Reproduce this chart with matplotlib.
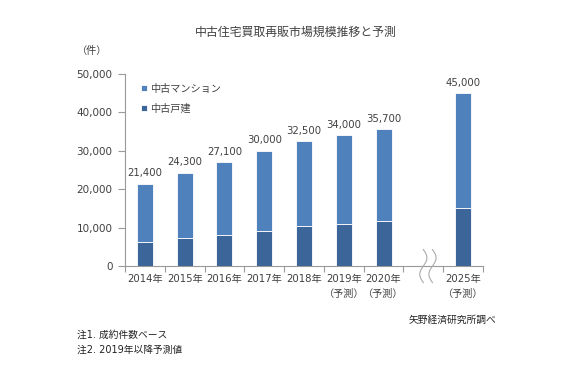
import numpy as np
import matplotlib
matplotlib.use('Agg')
import matplotlib.pyplot as plt

# DejaVu for digits (wide, Verdana-like), Noto CJK for the Japanese glyphs
plt.rcParams['font.family'] = ['DejaVu Sans', 'Noto Sans CJK JP']

# data
years = ['2014年', '2015年', '2016年', '2017年', '2018年', '2019年\n（予測）', '2020年\n（予測）', '2025年\n（予測）']
slots = [0, 1, 2, 3, 4, 5, 6, 8]
totals = [21400, 24300, 27100, 30000, 32500, 34000, 35700, 45000]
detached = [6300, 7300, 8000, 9100, 10300, 11000, 11600, 15000]
condo = [t - d for t, d in zip(totals, detached)]

text_col = '#404040'
col_condo = '#4f81bd'
col_house = '#3c6699'

fig = plt.figure(figsize=(5.75, 3.69), dpi=100)
ax = fig.add_axes([0.2174, 0.279, 0.6226, 0.5205])

ax.bar(slots, detached, width=0.4, color=col_house, edgecolor='white', linewidth=0.6, label='中古戸建', zorder=3)
ax.bar(slots, condo, width=0.4, bottom=detached, color=col_condo, edgecolor='white', linewidth=0.6, label='中古マンション', zorder=3)

for x, t in zip(slots, totals):
    ax.text(x, t + 1400, f'{t:,}', ha='center', va='bottom', fontsize=7.3, color=text_col)

ax.set_xlim(-0.5, 8.5)
ax.set_ylim(0, 50000)
ax.set_yticks(range(0, 50001, 10000))
ax.set_yticklabels([f'{v:,}' for v in range(0, 50001, 10000)], fontsize=7.5, color=text_col)

ax.set_xticks(np.arange(-0.5, 9, 1))
ax.set_xticklabels([])
ax.set_xticks(slots, minor=True)
ax.set_xticklabels(years, minor=True, fontsize=7.3, color=text_col, linespacing=1.6, va='top')
ax.tick_params(axis='x', which='minor', length=0, pad=6)
ax.tick_params(axis='x', which='major', length=4, color='#999999')
ax.tick_params(axis='y', length=5, color='#999999', pad=4)

for s in ['top', 'right']:
    ax.spines[s].set_visible(False)
for s in ['left', 'bottom']:
    ax.spines[s].set_color('#999999')
    ax.spines[s].set_linewidth(0.8)

# break marks for the 2021-2024 gap
yy = np.linspace(-4300, 4300, 50)
for dx in [-0.1, 0.13]:
    xx = 7.1 + dx + 0.09 * np.sin(yy / 4300 * np.pi)
    ax.plot(xx, yy, color='#aaaaaa', lw=0.8, clip_on=False, zorder=4)

h, l = ax.get_legend_handles_labels()
leg = ax.legend(h[::-1], l[::-1], loc='upper left', bbox_to_anchor=(0.025, 0.985), frameon=False,
                fontsize=7.3, handlelength=0.55, handleheight=0.55, handletextpad=0.35,
                labelspacing=0.95, borderaxespad=0.3)
for t in leg.get_texts():
    t.set_color(text_col)

fig.text(0.515, 0.913, '中古住宅買取再販市場規模推移と予測', ha='center', va='center', fontsize=8.6, color=text_col)
fig.text(0.16, 0.862, '（件）', ha='center', va='center', fontsize=7.3, color=text_col)
fig.text(0.787, 0.133, '矢野経済研究所調べ', ha='center', va='center', fontsize=7, color='#222222')
fig.text(0.134, 0.092, '注1. 成約件数ベース', ha='left', va='center', fontsize=7, color='#222222')
fig.text(0.134, 0.051, '注2. 2019年以降予測値', ha='left', va='center', fontsize=7, color='#222222')

fig.savefig('out.png', dpi=100, facecolor='white')
